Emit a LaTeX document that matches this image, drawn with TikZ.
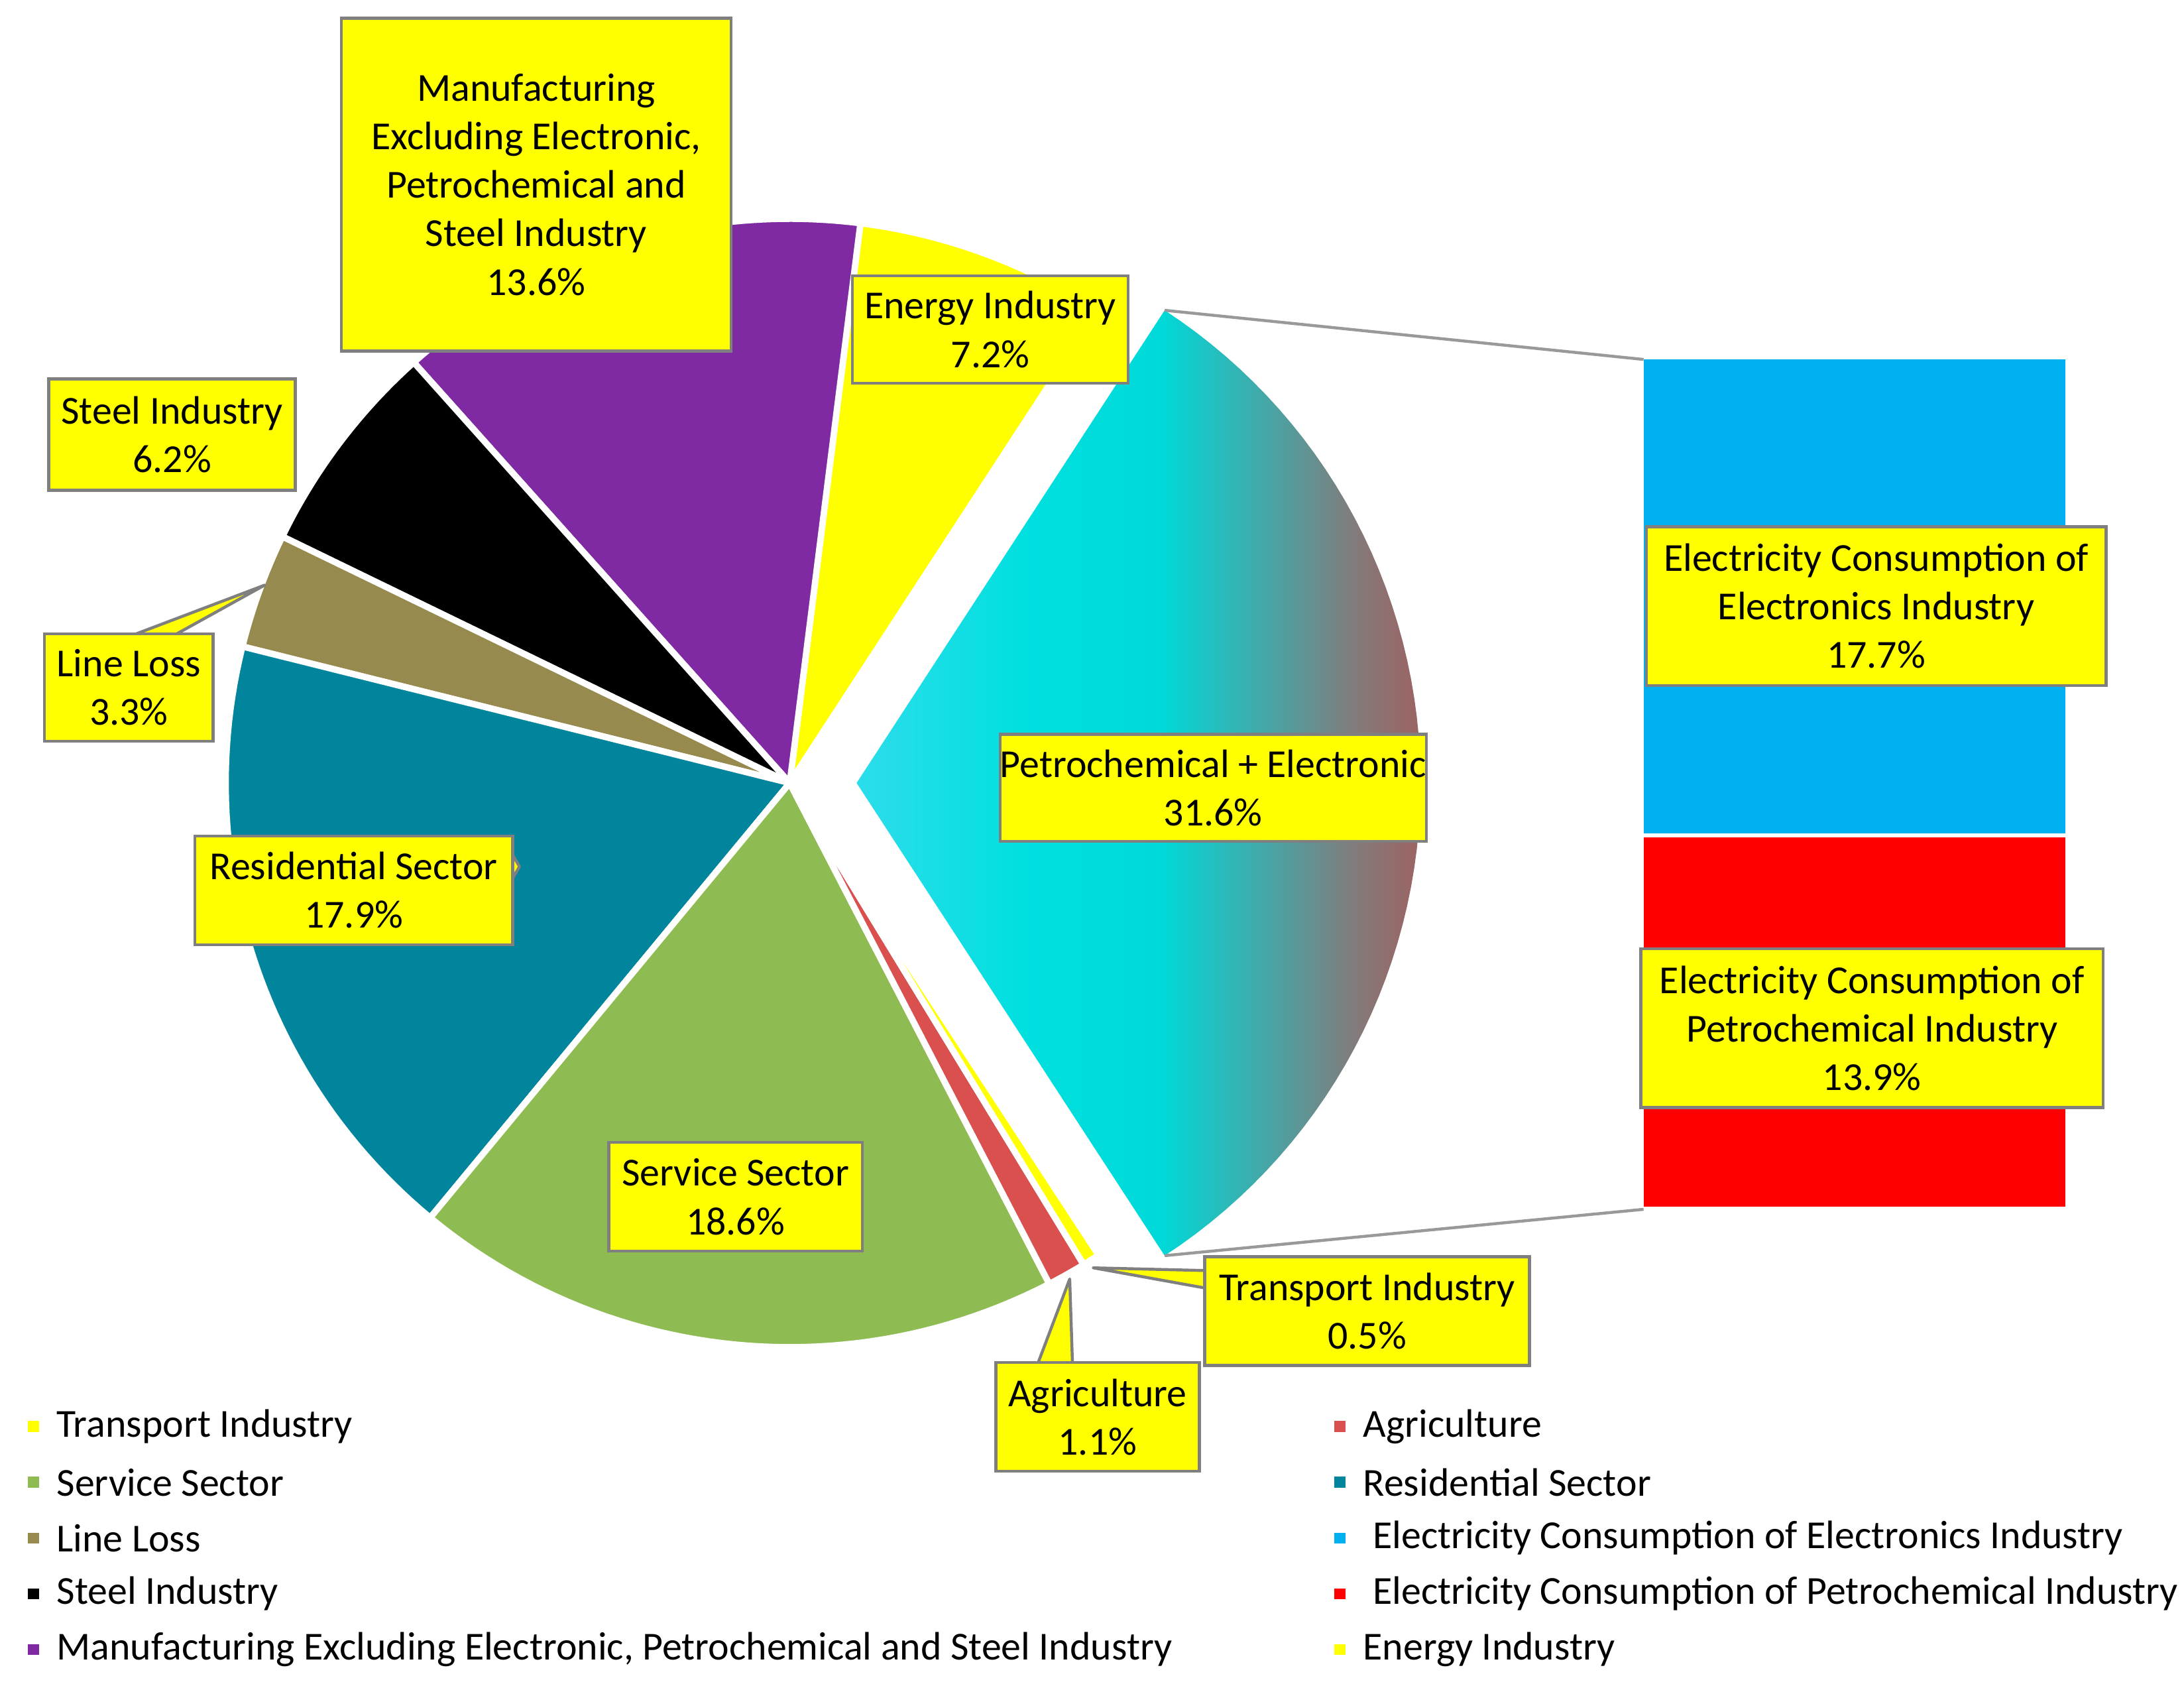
\documentclass[tikz,border=0pt]{standalone}
\usepackage{fontspec}
\setmainfont{Carlito}
\definecolor{cpurple}{HTML}{7F2AA2}
\definecolor{cbrown}{HTML}{968A4E}
\definecolor{cteal}{HTML}{00859C}
\definecolor{cgreen}{HTML}{8FBC52}
\definecolor{cagri}{HTML}{D9504E}
\definecolor{cblue}{HTML}{00B0F0}
\definecolor{cyel}{HTML}{FFFF00}
\definecolor{cgray}{HTML}{7F7F7F}
\pgfdeclarehorizontalshading{petro}{100bp}{color(0bp)=(cyan!45!white!85!blue);color(40bp)=(cyan!75!teal);color(52bp)=(cyan!70!teal);color(70bp)=(red!55!cyan!70!gray);color(100bp)=(red)}
\newcommand{\pslice}[4]{\fill[#4,draw=white,line width=1.3pt] (567,562) -- plot[domain=#1:#2,samples=50] ({567+405*cos(\x)},{562-405*sin(\x)}) -- cycle;}
\tikzset{lbl/.style 2 args={draw=cgray,fill=cyel,line width=0.6pt,align=center,inner sep=0pt,font=\fontsize{8.1}{9.9}\selectfont,minimum width=#1*0.01cm,minimum height=#2*0.01cm},
ptr/.style={fill=cyel,draw=cgray,line width=0.6pt,line join=round},
leg/.style={anchor=west,font=\fontsize{8.1}{9.9}\selectfont,inner sep=0pt},
mk/.style={minimum size=0.08cm,inner sep=0pt},
conn/.style={draw=gray!80,line width=0.6pt}}
\begin{document}
\begin{tikzpicture}[x=0.01cm,y=-0.01cm]
\useasboundingbox (0,0) rectangle (1568,1213);
% pie
\pslice{56.9}{82.8}{x}{cyel}
\pslice{82.8}{131.8}{x}{cpurple}
\pslice{131.8}{154.1}{x}{black}
\pslice{154.1}{166}{x}{cbrown}
\pslice{166}{230.4}{x}{cteal}
\pslice{230.4}{297.4}{x}{cgreen}
\pslice{297.4}{301.4}{x}{cagri}
\pslice{301.4}{303.2}{x}{cyel}
\shade[shading=petro] (615,562) -- plot[domain=-56.9:56.9,samples=60] ({615+405*cos(\x)},{562-405*sin(\x)}) -- cycle;
\coordinate (ptop) at ({615+405*cos(56.9)},{562-405*sin(56.9)});
\coordinate (pbot) at ({615+405*cos(-56.9)},{562-405*sin(-56.9)});
% bar
\fill[cblue] (1180,258) rectangle (1483,598);
\fill[red] (1180,601) rectangle (1483,866);
\coordinate (btop) at (1180,258);
\coordinate (bbot) at (1180,868);
\draw[conn] (ptop) -- (btop);
\draw[conn] (pbot) -- (bbot);
% pointers
\draw[ptr] (95,456) -- (190,420) -- (125,456);
\draw[ptr] (367,612) -- (373,622) -- (367,632);
\draw[ptr] (1012,540) -- (1020,552) -- (1012,566);
\draw[ptr] (868,925) -- (785,910) -- (868,912);
\draw[ptr] (745,979) -- (768,918) -- (770,979);
% labels
\node[lbl={280}{239}] (manu) at (385,132.5) {Manufacturing\\Excluding Electronic,\\Petrochemical and\\Steel Industry\\13.6\%};
\node[lbl={198}{77}] (ener) at (711,236.5) {Energy Industry\\7.2\%};
\node[lbl={177}{80}] (steel) at (123.5,312) {Steel Industry\\6.2\%};
\node[lbl={121}{77}] (line) at (92.5,493.5) {Line Loss\\3.3\%};
\node[lbl={228}{78}] (resi) at (254,639) {Residential Sector\\17.9\%};
\node[lbl={182}{78}] (serv) at (528,859) {Service Sector\\18.6\%};
\node[lbl={284}{77}] (petr) at (871,565.5) {Petrochemical + Electronic\\31.6\%};
\node[lbl={233}{78}] (tran) at (981.5,941) {Transport Industry\\0.5\%};
\node[lbl={146}{78}] (agri) at (788,1017) {Agriculture\\1.1\%};
\node[lbl={330}{114}] (elec) at (1347,435) {Electricity Consumption of\\Electronics Industry\\17.7\%};
\node[lbl={332}{114}] (pche) at (1344,738) {Electricity Consumption of\\Petrochemical Industry\\13.9\%};
% legend
\node[mk,fill=cyel] (m1) at (24,1024) {}; \node[leg] (l1) at (40,1024) {Transport Industry};
\node[mk,fill=cgreen] (m2) at (24,1064) {}; \node[leg] (l2) at (40,1064) {Service Sector};
\node[mk,fill=cbrown] (m3) at (24,1104) {}; \node[leg] (l3) at (40,1104) {Line Loss};
\node[mk,fill=black] (m4) at (24,1144) {}; \node[leg] (l4) at (40,1144) {Steel Industry};
\node[mk,fill=cpurple] (m5) at (24,1184) {}; \node[leg] (l5) at (40,1184) {Manufacturing Excluding Electronic, Petrochemical and Steel Industry};
\node[mk,fill=cagri] (m6) at (962,1024) {}; \node[leg] (l6) at (978,1024) {Agriculture};
\node[mk,fill=cteal] (m7) at (962,1064) {}; \node[leg] (l7) at (978,1064) {Residential Sector};
\node[mk,fill=cblue] (m8) at (962,1104) {}; \node[leg] (l8) at (985,1104) {Electricity Consumption of Electronics Industry};
\node[mk,fill=red] (m9) at (962,1144) {}; \node[leg] (l9) at (985,1144) {Electricity Consumption of Petrochemical Industry};
\node[mk,fill=cyel] (m10) at (962,1184) {}; \node[leg] (l10) at (978,1184) {Energy Industry};
\end{tikzpicture}
\end{document}
